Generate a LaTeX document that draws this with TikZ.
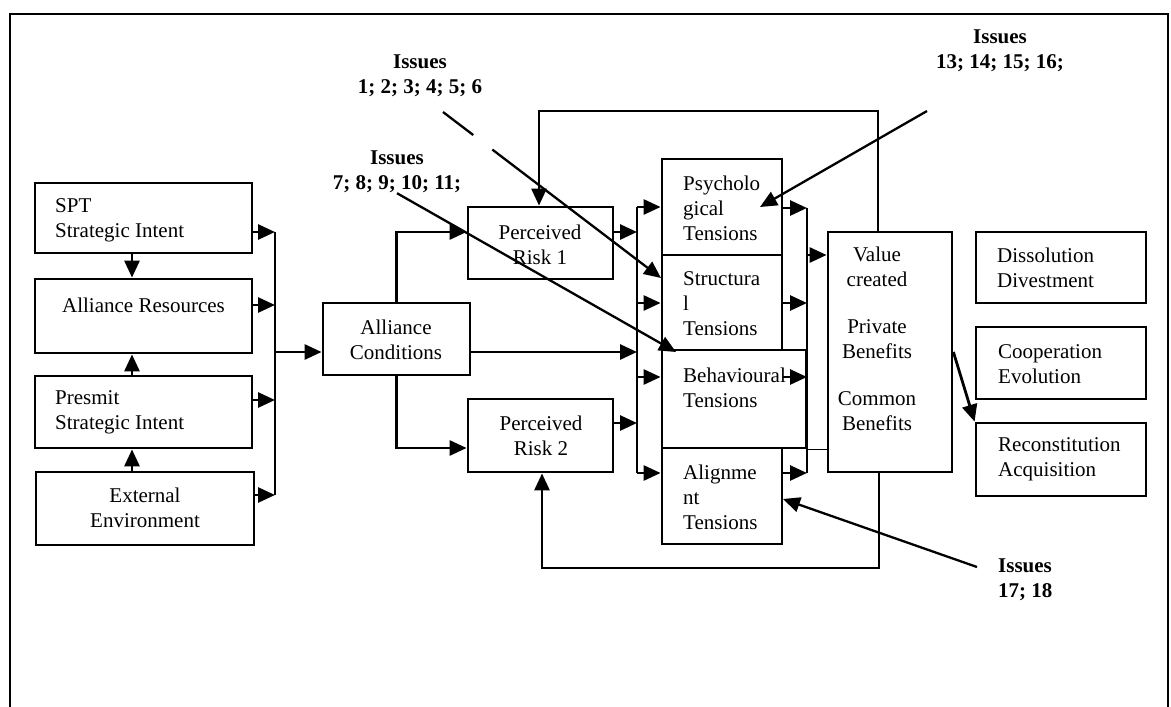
\documentclass[tikz,border=0pt]{standalone}
\usepackage{fontspec}
\setmainfont{Liberation Serif}
\usetikzlibrary{arrows.meta}

\begin{document}
\begin{tikzpicture}[x=1pt,y=1pt,yscale=-1,xscale=1,
  font=\fontsize{21}{25}\selectfont,
  box/.style={draw,line width=2.8pt,inner sep=0pt},
  txt/.style={inner sep=0pt,align=left,anchor=west},
  ctr/.style={inner sep=0pt,align=center},
  iss/.style={inner sep=0pt,align=center,font=\fontsize{21}{25}\selectfont\bfseries},
  bus/.style={line width=2.8pt},
  arr/.style={line width=2.8pt,-{Triangle[length=17pt,width=15pt]}},
  pin/.style={line width=2.3pt,-{Triangle[length=17pt,width=15pt]}}]
\useasboundingbox (0,0) rectangle (1171,707);

%Shape: Frame
\draw[line width=2.3pt] (10,707) -- (10,14) -- (1168,14) -- (1168,707);

%Shape: Rectangle (left column)
\node[box,minimum width=217pt,minimum height=70pt] (spt) at (143.5,218) {};
\node[box,minimum width=217pt,minimum height=74pt] (res) at (143.5,316) {};
\node[box,minimum width=217pt,minimum height=72pt] (pre) at (143.5,412) {};
\node[box,minimum width=218pt,minimum height=73pt] (ext) at (145,508.5) {};
%Shape: Rectangle (conditions and risks)
\node[box,minimum width=147pt,minimum height=72pt] (cond) at (396.5,339) {};
\node[box,minimum width=145pt,minimum height=72pt] (risk1) at (540.5,243) {};
\node[box,minimum width=145pt,minimum height=73pt] (risk2) at (540.5,435.5) {};
%Shape: Rectangle (tensions)
\node[box,minimum width=120pt,minimum height=96pt] (psy) at (722,207) {};
\node[box,minimum width=120pt,minimum height=95pt] (str) at (722,302.5) {};
\node[box,minimum width=144pt,minimum height=98pt] (beh) at (734,399) {};
\node[box,minimum width=120pt,minimum height=96pt] (ali) at (722,496) {};
%Shape: Rectangle (value and outcomes)
\node[box,minimum width=124pt,minimum height=240pt] (val) at (890,352) {};
\node[box,minimum width=170pt,minimum height=71pt] (dis) at (1061,267.5) {};
\node[box,minimum width=170pt,minimum height=72pt] (coo) at (1061,363) {};
\node[box,minimum width=170pt,minimum height=73pt] (rec) at (1061,459.5) {};

% Text Node
\node[txt] at (55,220.5) {SPT\\Strategic Intent};
\node[ctr] at (143.5,305) {Alliance Resources};
\node[txt] at (55,412.5) {Presmit\\Strategic Intent};
\node[ctr] at (145,507.5) {External\\Environment};
\node[ctr] at (396,339.5) {Alliance\\Conditions};
\node[ctr] at (540,244.5) {Perceived\\Risk 1};
\node[ctr] at (541,435.5) {Perceived\\Risk 2};
\node[txt] at (683,208.5) {Psycholo\\gical\\Tensions};
\node[txt] at (683,304) {Structura\\l\\Tensions};
\node[txt] at (683,387.5) {Behavioural\\Tensions};
\node[txt] at (683,497.5) {Alignme\\nt\\Tensions};
\node[ctr] at (877,339) {Value\\created\\[22pt]Private\\Benefits\\[22pt]Common\\Benefits};
\node[txt] at (997,267.5) {Dissolution\\Divestment};
\node[txt] at (998,364) {Cooperation\\Evolution};
\node[txt] at (998,459.5) {Reconstitution\\Acquisition};

% Text Node (issues)
\node[iss] (is1) at (420,75.5) {Issues\\1; 2; 3; 4; 5; 6};
\node[iss] (is2) at (397,172) {Issues\\7; 8; 9; 10; 11;};
\node[iss] (is3) at (1000,50.5) {Issues\\13; 14; 15; 16;};
\node[iss,align=left,anchor=west] (is4) at (998,579.5) {Issues\\17; 18};

%Straight Lines (left column)
\coordinate (lx) at (132,0);
\draw[arr] (spt.south -| lx) -- (res.north -| lx);
\draw[arr] (pre.north -| lx) -- (res.south -| lx);
\draw[arr] (ext.north -| lx) -- (pre.south -| lx);
\coordinate (bL1) at (275,232);
\coordinate (bL2) at (275,305);
\coordinate (bL3) at (275,400);
\coordinate (bL4) at (275,495);
\coordinate (bLc) at (275,352);
\draw[bus] (bL1) -- (bL4);
\draw[arr] (spt.east |- bL1) -- (bL1);
\draw[arr] (res.east |- bL2) -- (bL2);
\draw[arr] (pre.east |- bL3) -- (bL3);
\draw[arr] (ext.east |- bL4) -- (bL4);
\draw[arr] (bLc) -- (cond.west |- bLc);

%Straight Lines (conditions to risks)
\coordinate (c1) at (396,232);
\coordinate (c2) at (396,448);
\draw[arr] (cond.north) |- (risk1.west |- c1);
\draw[arr] (cond.south) |- (risk2.west |- c2);

%Straight Lines (middle bus)
\coordinate (bM1) at (637,207);
\coordinate (bM2) at (637,303);
\coordinate (bM3) at (637,377);
\coordinate (bM4) at (637,473);
\coordinate (bMr1) at (637,232);
\coordinate (bMc) at (637,352);
\coordinate (bMr2) at (637,423);
\draw[bus] (bM1) -- (bM4);
\draw[arr] (risk1.east |- bMr1) -- (bMr1);
\draw[arr] (cond.east |- bMc) -- (bMc);
\draw[arr] (risk2.east |- bMr2) -- (bMr2);
\draw[arr] (bM1) -- (psy.west |- bM1);
\draw[arr] (bM2) -- (str.west |- bM2);
\draw[arr] (bM3) -- (beh.west |- bM3);
\draw[arr] (bM4) -- (ali.west |- bM4);

%Straight Lines (right bus)
\coordinate (bR1) at (807,208);
\coordinate (bR2) at (807,303);
\coordinate (bR3) at (807,377);
\coordinate (bR4) at (807,473);
\coordinate (bRv) at (807,255);
\draw[bus] (bR1) -- (bR4);
\draw[arr] (psy.east |- bR1) -- (bR1);
\draw[arr] (str.east |- bR2) -- (bR2);
\draw[arr] (str.east |- bR3) -- (bR3);
\draw[arr] (ali.east |- bR4) -- (bR4);
\draw[arr] (bRv) -- (val.west |- bRv);
\draw[line width=0.8pt] (beh.south east) -- (val.west |- beh.south east);

%Straight Lines (feedback loops)
\coordinate (fT1) at (878,111);
\coordinate (fT2) at (539,111);
\draw[arr] (val.north -| fT1) -- (fT1) -- (fT2) -- (risk1.north -| fT2);
\coordinate (fB1) at (879,568);
\coordinate (fB2) at (542,568);
\draw[arr] (val.south -| fB1) -- (fB1) -- (fB2) -- (risk2.south -| fB2);
\draw[arr] (val.east) -- (rec.north west);

%Straight Lines (issues)
\coordinate (is1a) at (443,112);
\coordinate (is1b) at (661,278);
\draw[pin,dash pattern=on 38pt off 24pt on 400pt] (is1a) -- (is1b);
\coordinate (is2b) at (676,352);
\draw[pin] (is2.south) -- (is2b);
\coordinate (is3a) at (927,111);
\coordinate (is3b) at (760,207);
\draw[pin] (is3a) -- (is3b);
\coordinate (is4a) at (977,567);
\coordinate (is4b) at (783,499);
\draw[pin] (is4a) -- (is4b);

\end{tikzpicture}
\end{document}
